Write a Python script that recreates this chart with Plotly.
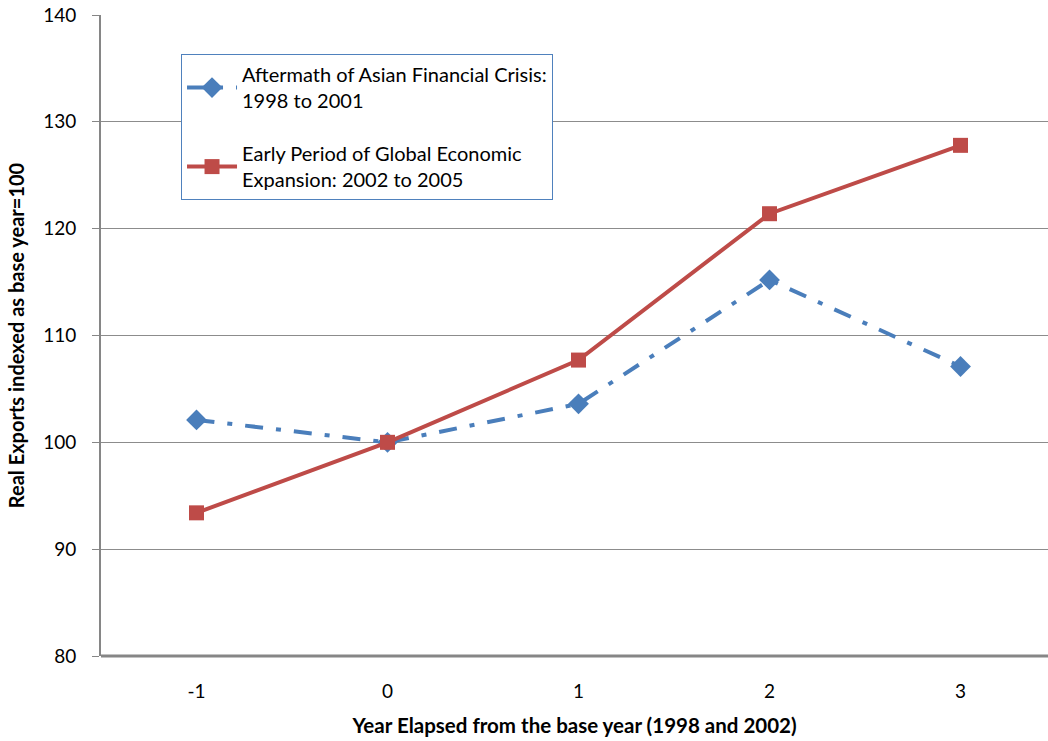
import plotly.graph_objects as go

years = [-1, 0, 1, 2, 3]
asian_crisis = [102.1, 100.0, 103.6, 115.2, 107.1]
global_expansion = [93.4, 100.0, 107.7, 121.4, 127.8]
series_names = ["Aftermath of Asian Financial Crisis:<br>1998 to 2001",
                "Early Period of Global Economic<br>Expansion: 2002 to 2005"]
y_ticks = [80, 90, 100, 110, 120, 130, 140]

FONT = "Lato"

fig = go.Figure()
fig.add_trace(go.Scatter(
    x=years, y=asian_crisis, name=series_names[0], mode="lines+markers",
    legendgroup="a",
    line=dict(color="#4a7ebb", width=4, dash="18px,13px,5px,13px"),
    marker=dict(symbol="diamond", size=16, color="#4a7ebb"),
))
fig.add_trace(go.Scatter(
    x=years, y=global_expansion, name=series_names[1], mode="lines+markers",
    legendgroup="b",
    line=dict(color="#be4b48", width=4),
    marker=dict(symbol="square", size=15, color="#be4b48"),
))

fig.update_layout(
    width=1048, height=741,
    margin=dict(l=101, r=0, t=15, b=85),
    paper_bgcolor="white", plot_bgcolor="white",
    font=dict(family=FONT, size=19, color="black"),
    showlegend=True,
    legend=dict(
        x=0.0845, y=0.939, xanchor="left", yanchor="top",
        bordercolor="#4f81bd", borderwidth=1, bgcolor="white",
        font=dict(family=FONT, size=20, color="black"),
        tracegroupgap=24, itemwidth=50,
    ),
    xaxis=dict(
        range=[-1.5, 3.458], tickvals=years, ticktext=[str(v) for v in years],
        showgrid=False, zeroline=False, showline=False,
        ticks="", tickfont=dict(size=19), ticklabelstandoff=22,
        title=dict(text="<b>Year Elapsed from the base year (1998 and 2002)</b>",
                   font=dict(size=20.5), standoff=17),
    ),
    yaxis=dict(
        range=[80, 140], tickvals=y_ticks, showgrid=True, gridcolor="#8c8c8c",
        gridwidth=1, zeroline=False, showline=True, linecolor="#868686", linewidth=2,
        ticks="outside", ticklen=7, tickcolor="#868686", tickfont=dict(size=19),
        ticklabelstandoff=12,
        title=dict(text="<b>Real Exports indexed as base year=100</b>",
                   font=dict(size=20), standoff=13),
    ),
)
# bottom axis line
fig.add_shape(type="line", xref="paper", yref="paper", x0=0, x1=1, y0=0, y1=0,
              line=dict(color="#868686", width=3))

fig.write_html("out.html")
